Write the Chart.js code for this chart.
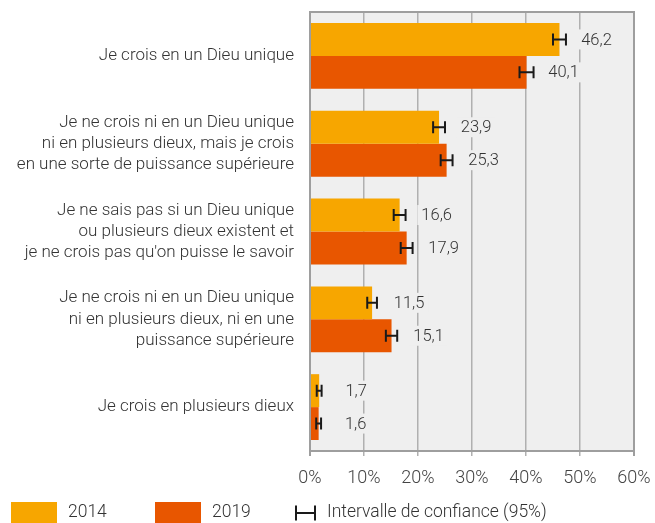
<!DOCTYPE html>
<html>
<head>
<meta charset="utf-8">
<script src="https://cdn.jsdelivr.net/npm/chart.js@4/dist/chart.umd.min.js"></script>
<style>
  html, body { margin: 0; padding: 0; background: #fff; }
  #wrap { width: 655px; height: 523px; }
</style>
</head>
<body>
<div id="wrap"><canvas id="beliefChart" width="655" height="523"></canvas></div>
<script>
// Data
const categories = [
    ['Je crois en un Dieu unique'],
    ['Je ne crois ni en un Dieu unique', 'ni en plusieurs dieux, mais je crois', 'en une sorte de puissance supérieure'],
    ['Je ne sais pas si un Dieu unique', 'ou plusieurs dieux existent et', "je ne crois pas qu'on puisse le savoir"],
    ['Je ne crois ni en un Dieu unique', 'ni en plusieurs dieux, ni en une', 'puissance supérieure'],
    ['Je crois en plusieurs dieux']
];
const values2014 = [46.2, 23.9, 16.6, 11.5, 1.7];
const values2019 = [40.1, 25.3, 17.9, 15.1, 1.6];
// half width of the 95% confidence interval, in points
const ci2014 = [1.2, 1.1, 1.1, 0.9, 0.45];
const ci2019 = [1.3, 1.1, 1.1, 1.05, 0.45];
const xTicks = [0, 10, 20, 30, 40, 50, 60];
const seriesNames = ['2014', '2019'];
const ciLabel = 'Intervalle de confiance (95%)';

const COL_2014 = '#f7a600';
const COL_2019 = '#e85600';
const PLOT_BG = '#efefef';
const AXIS_COL = '#9e9e9e';
const TEXT_COL = '#333333';
const FONT = 'Roboto, "Noto Sans", sans-serif';

const ciSets = [ci2014, ci2019];

function drawH(ctx, x1, x2, y, h) {
    ctx.beginPath();
    ctx.moveTo(x1, y); ctx.lineTo(x2, y);
    ctx.moveTo(x1, y - h / 2); ctx.lineTo(x1, y + h / 2);
    ctx.moveTo(x2, y - h / 2); ctx.lineTo(x2, y + h / 2);
    ctx.stroke();
}

// plot background + top border
const plotBackground = {
    id: 'plotBackground',
    beforeDraw(chart) {
        const { ctx, chartArea: a } = chart;
        ctx.save();
        ctx.fillStyle = PLOT_BG;
        ctx.fillRect(a.left, a.top, a.right - a.left, a.bottom - a.top);
        ctx.restore();
    },
    afterDraw(chart) {
        const { ctx, chartArea: a } = chart;
        ctx.save();
        ctx.strokeStyle = AXIS_COL;
        ctx.lineWidth = 2;
        ctx.beginPath();
        ctx.moveTo(a.left - 1, a.top);
        ctx.lineTo(a.right + 1, a.top);
        ctx.stroke();
        ctx.restore();
    }
};

// error bars and value labels
const errorBarsAndLabels = {
    id: 'errorBarsAndLabels',
    afterDatasetsDraw(chart) {
        const { ctx } = chart;
        const xScale = chart.scales.x;
        ctx.save();
        chart.data.datasets.forEach((ds, di) => {
            const meta = chart.getDatasetMeta(di);
            meta.data.forEach((bar, i) => {
                const v = ds.data[i];
                const ci = ciSets[di][i];
                const y = bar.y;
                // error bar
                ctx.strokeStyle = '#1a1a1a';
                ctx.lineWidth = 2;
                drawH(ctx, xScale.getPixelForValue(v - ci), xScale.getPixelForValue(v + ci), y, 12);
                // label
                const txt = v.toFixed(1).replace('.', ',');
                ctx.font = '300 16.5px ' + FONT;
                const w = ctx.measureText(txt).width;
                const cx = bar.x + 37;
                ctx.fillStyle = PLOT_BG;
                ctx.fillRect(cx - w / 2 - 4, y - 10, w + 8, 20);
                ctx.fillStyle = TEXT_COL;
                ctx.textAlign = 'center';
                ctx.textBaseline = 'middle';
                ctx.fillText(txt, cx, y + 1);
            });
        });
        ctx.restore();
    }
};

// legend at the bottom
const bottomLegend = {
    id: 'bottomLegend',
    afterDraw(chart) {
        const { ctx } = chart;
        ctx.save();
        ctx.font = '300 17.5px ' + FONT;
        ctx.textBaseline = 'middle';
        ctx.textAlign = 'left';
        const y = 513;
        ctx.fillStyle = COL_2014;
        ctx.fillRect(11, 502, 46, 21);
        ctx.fillStyle = TEXT_COL;
        ctx.fillText(seriesNames[0], 68, y);
        ctx.fillStyle = COL_2019;
        ctx.fillRect(155, 502, 46, 21);
        ctx.fillStyle = TEXT_COL;
        ctx.fillText(seriesNames[1], 212, y);
        ctx.strokeStyle = '#1a1a1a';
        ctx.lineWidth = 2;
        drawH(ctx, 296, 315, y, 15);
        ctx.fillText(ciLabel, 327, y);
        ctx.restore();
    }
};

const ctx = document.getElementById('beliefChart').getContext('2d');
new Chart(ctx, {
    type: 'bar',
    data: {
        labels: categories,
        datasets: [
            { label: seriesNames[0], data: values2014, backgroundColor: COL_2014, barPercentage: 1, categoryPercentage: 0.75 },
            { label: seriesNames[1], data: values2019, backgroundColor: COL_2019, barPercentage: 1, categoryPercentage: 0.75 }
        ]
    },
    options: {
        indexAxis: 'y',
        responsive: false,
        animation: false,
        layout: { padding: { top: 12, right: 21, left: 0, bottom: 0 } },
        plugins: {
            legend: { display: false },
            tooltip: { enabled: false }
        },
        scales: {
            x: {
                min: 0,
                max: 60,
                afterBuildTicks(scale) {
                    scale.ticks = xTicks.map(v => ({ value: v }));
                },
                afterFit(scale) {
                    scale.height = 72;
                    scale.paddingLeft = 0;
                    scale.paddingRight = 0;
                },
                grid: {
                    color: (c) => (c.tick && (c.tick.value === 60 || c.tick.value === 0)) ? AXIS_COL : '#b0b0b0',
                    lineWidth: (c) => (c.tick && (c.tick.value === 60 || c.tick.value === 0)) ? 2 : 1.5,
                    tickLength: 5
                },
                border: { color: AXIS_COL, width: 2 },
                ticks: {
                    callback: (v) => v + '%',
                    color: '#444',
                    padding: 12,
                    maxRotation: 0,
                    font: { family: FONT, size: 18, weight: 300 }
                }
            },
            y: {
                afterFit(scale) {
                    scale.width = 310;
                    scale.paddingTop = 0;
                    scale.paddingBottom = 0;
                },
                grid: { display: false, drawTicks: false },
                border: { display: true, color: AXIS_COL, width: 2 },
                ticks: {
                    color: TEXT_COL,
                    padding: 16,
                    font: { family: FONT, size: 17, weight: 300, lineHeight: 1.25 }
                }
            }
        }
    },
    plugins: [plotBackground, errorBarsAndLabels, bottomLegend]
});
</script>
</body>
</html>
